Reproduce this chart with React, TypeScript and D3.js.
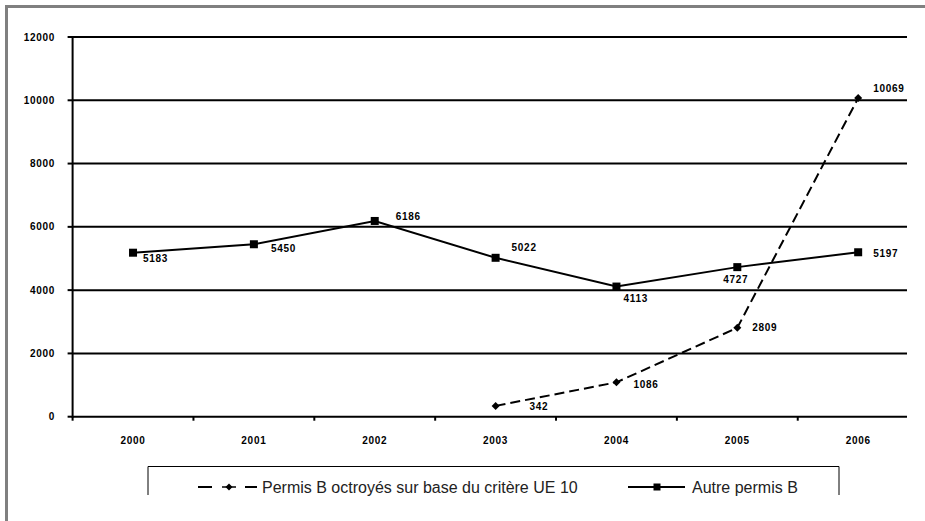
import React from "react";
import * as d3 from "d3";

const years = ["2000", "2001", "2002", "2003", "2004", "2005", "2006"];
const autreValues = [5183, 5450, 6186, 5022, 4113, 4727, 5197];
const ueYears = ["2003", "2004", "2005", "2006"];
const ueValues = [342, 1086, 2809, 10069];
const yTicks = [0, 2000, 4000, 6000, 8000, 10000, 12000];
const seriesNames = ["Permis B octroyés sur base du critère UE 10", "Autre permis B"];

// label placement offsets (dx from point to label start, dy to label center)
const autreLabelOffsets: [number, number][] = [[10, 6], [17, 4], [21, -4], [16, -10], [7, 12], [-14, 12], [15, 1]];
const ueLabelOffsets: [number, number][] = [[34, 1], [17, 2], [15, 0], [15, -10]];

const W = 925, H = 521;
const left = 72.6, right = 918.6, gridRight = 907;
const top = 37, bottom = 416.7;

export default function App() {
  const x = d3.scaleBand<string>().domain(years).range([left, right]);
  const y = d3.scaleLinear().domain([0, 12000]).range([bottom, top]);
  const cx = (yr: string) => (x(yr) as number) + x.bandwidth() / 2;

  const line = d3.line<[string, number]>().x(d => cx(d[0])).y(d => y(d[1]));
  const autrePts: [string, number][] = years.map((yr, i) => [yr, autreValues[i]]);
  const uePts: [string, number][] = ueYears.map((yr, i) => [yr, ueValues[i]]);

  const font = "'Liberation Sans', Arial, sans-serif";
  const numStyle = { fontFamily: font, fontSize: 10, fontWeight: 700 as const, letterSpacing: 0.7 };
  const legStyle = { fontFamily: font, fontSize: 16, fill: "#222" };

  const boundaries = years.map(yr => x(yr) as number).slice(1);

  const diamond = (px: number, py: number, s: number) =>
    `M${px},${py - s} L${px + s},${py} L${px},${py + s} L${px - s},${py} Z`;

  const ly = 487;

  return (
    <svg width={W} height={H} style={{ position: "absolute", left: 0, top: 0, background: "#fff" }}>
      {/* gray frame */}
      <rect x={5} y={5} width={920} height={3} fill="#808080" />
      <rect x={5} y={5} width={3} height={516} fill="#808080" />

      {/* gridlines */}
      {yTicks.map(t => (
        <g key={t}>
          <line x1={left} x2={gridRight} y1={y(t)} y2={y(t)} stroke="#000" strokeWidth={2} />
          <line x1={left - 5} x2={left} y1={y(t)} y2={y(t)} stroke="#000" strokeWidth={2} />
          <text x={55} y={y(t)} dy="0.35em" textAnchor="end" style={numStyle}>{t}</text>
        </g>
      ))}
      {/* y axis */}
      <line x1={left} x2={left} y1={top - 1} y2={bottom + 1} stroke="#000" strokeWidth={2} />
      {/* x ticks */}
      {[left, ...boundaries].map((b, i) => (
        <line key={i} x1={b} x2={b} y1={bottom} y2={bottom + 4} stroke="#000" strokeWidth={2} />
      ))}
      {years.map(yr => (
        <text key={yr} x={cx(yr)} y={440} dy="0.35em" textAnchor="middle" style={numStyle}>{yr}</text>
      ))}

      {/* Autre permis B */}
      <path d={line(autrePts) || ""} fill="none" stroke="#000" strokeWidth={2} />
      {autrePts.map((p, i) => (
        <g key={p[0]}>
          <rect x={cx(p[0]) - 4} y={y(p[1]) - 4} width={8} height={8} fill="#000" />
          <text x={cx(p[0]) + autreLabelOffsets[i][0]} y={y(p[1]) + autreLabelOffsets[i][1]} dy="0.35em" style={numStyle}>{p[1]}</text>
        </g>
      ))}

      {/* UE 10 */}
      <path d={line(uePts) || ""} fill="none" stroke="#000" strokeWidth={2} strokeDasharray="10,5" />
      {uePts.map((p, i) => (
        <g key={p[0]}>
          <path d={diamond(cx(p[0]), y(p[1]), 4)} fill="#000" />
          <text x={cx(p[0]) + ueLabelOffsets[i][0]} y={y(p[1]) + ueLabelOffsets[i][1]} dy="0.35em" style={numStyle}>{p[1]}</text>
        </g>
      ))}

      {/* legend box (clipped at bottom) */}
      <path d="M148,495 L148,466.5 L839,466.5 L839,495" fill="none" stroke="#000" strokeWidth={1} />
      <line x1={198} x2={212} y1={ly} y2={ly} stroke="#000" strokeWidth={2} />
      <line x1={222} x2={236} y1={ly} y2={ly} stroke="#000" strokeWidth={1.5} />
      <line x1={245} x2={257} y1={ly} y2={ly} stroke="#000" strokeWidth={2} />
      <path d={diamond(229, ly, 3.5)} fill="#000" />
      <text x={262} y={ly} dy="0.35em" style={legStyle}>{seriesNames[0]}</text>
      <line x1={628} x2={685} y1={ly} y2={ly} stroke="#000" strokeWidth={2} />
      <rect x={653.5} y={ly - 3.5} width={7} height={7} fill="#000" />
      <text x={692} y={ly} dy="0.35em" style={legStyle}>{seriesNames[1]}</text>
    </svg>
  );
}
